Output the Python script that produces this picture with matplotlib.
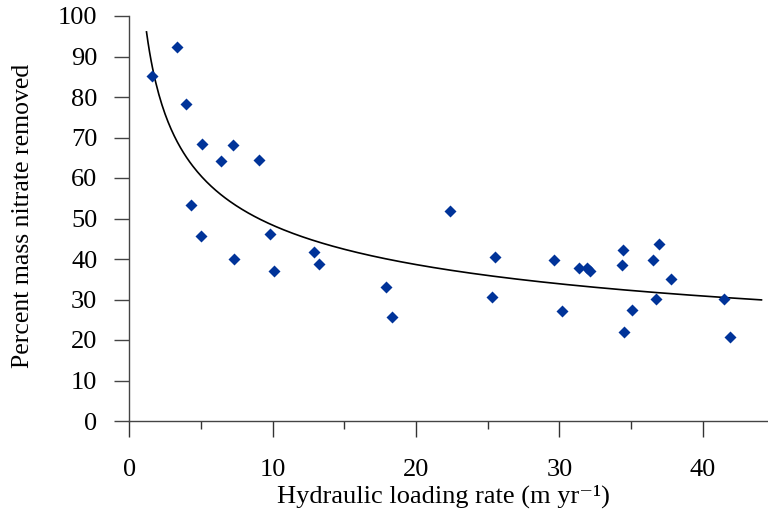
import matplotlib
matplotlib.use("Agg")
import matplotlib.pyplot as plt
import numpy as np

# Loading rate (m/yr) vs. percent mass nitrate removed
loading_rate = [1.56, 3.33, 3.93, 4.28, 5.02, 5.09, 6.39, 7.25, 7.28, 9.02,
                9.83, 10.09, 12.86, 13.23, 17.92, 18.32, 22.39, 25.27, 25.48,
                29.6, 30.2, 31.4, 31.9, 32.13, 34.34, 34.45, 34.53, 35.06,
                36.51, 36.72, 36.93, 37.81, 41.51, 41.93]
pct_removed = [85.2, 92.4, 78.3, 53.3, 45.7, 68.3, 64.2, 68.1, 40.0, 64.4,
               46.1, 37.1, 41.7, 38.8, 33.0, 25.7, 51.8, 30.5, 40.6,
               39.7, 27.1, 37.7, 37.7, 37.1, 38.4, 42.3, 21.9, 27.5,
               39.8, 30.1, 43.7, 35.1, 30.2, 20.8]
trend_range = (1.2, 44.1)

x_ticks = [0, 10, 20, 30, 40]
y_ticks = list(range(0, 101, 10))

plt.rcParams["font.family"] = ["Liberation Serif", "DejaVu Serif"]

W, H = 768, 513
fig = plt.figure(figsize=(W / 100, H / 100), dpi=100)
ax = fig.add_axes([129.3 / W, 92 / H, (W - 129.3) / W, 405 / H])

# power-law trendline fitted in log space (like a spreadsheet power fit)
b, ln_a = np.polyfit(np.log(loading_rate), np.log(pct_removed), 1)
xs = np.linspace(trend_range[0], trend_range[1], 400)
ax.plot(xs, np.exp(ln_a) * xs ** b, color="black", lw=1.2, zorder=2)

ax.plot(loading_rate, pct_removed, linestyle="none", marker="D",
        ms=6, mec="none", color="#003399", zorder=3)

ax.set_xlim(0, (W - 129.3) / 14.335)
ax.set_ylim(0, 100)
ax.set_xticks(x_ticks)
ax.set_xticks([5, 15, 25, 35], minor=True)
ax.set_yticks(y_ticks)

for s in ["top", "right"]:
    ax.spines[s].set_visible(False)
for s in ["left", "bottom"]:
    ax.spines[s].set_color("#444444")
    ax.spines[s].set_linewidth(1.0)

ax.tick_params(axis="x", which="major", direction="out", length=11.5,
               width=1.0, color="#333333", pad=16, labelsize=19)
ax.tick_params(axis="x", which="minor", direction="out", length=5.5,
               width=1.0, color="#333333")
ax.tick_params(axis="y", which="major", direction="out", length=11,
               width=1.0, color="#444444", pad=12, labelsize=19)

fig.text(443 / W, 1 - 496 / H, "Hydraulic loading rate (m yr\u207b\u00b9)",
         ha="center", va="center", fontsize=19)
fig.text(23 / W, 1 - 216 / H, "Percent mass nitrate removed", rotation=90,
         ha="center", va="center", fontsize=18.5)

fig.savefig("out.png", dpi=100)
